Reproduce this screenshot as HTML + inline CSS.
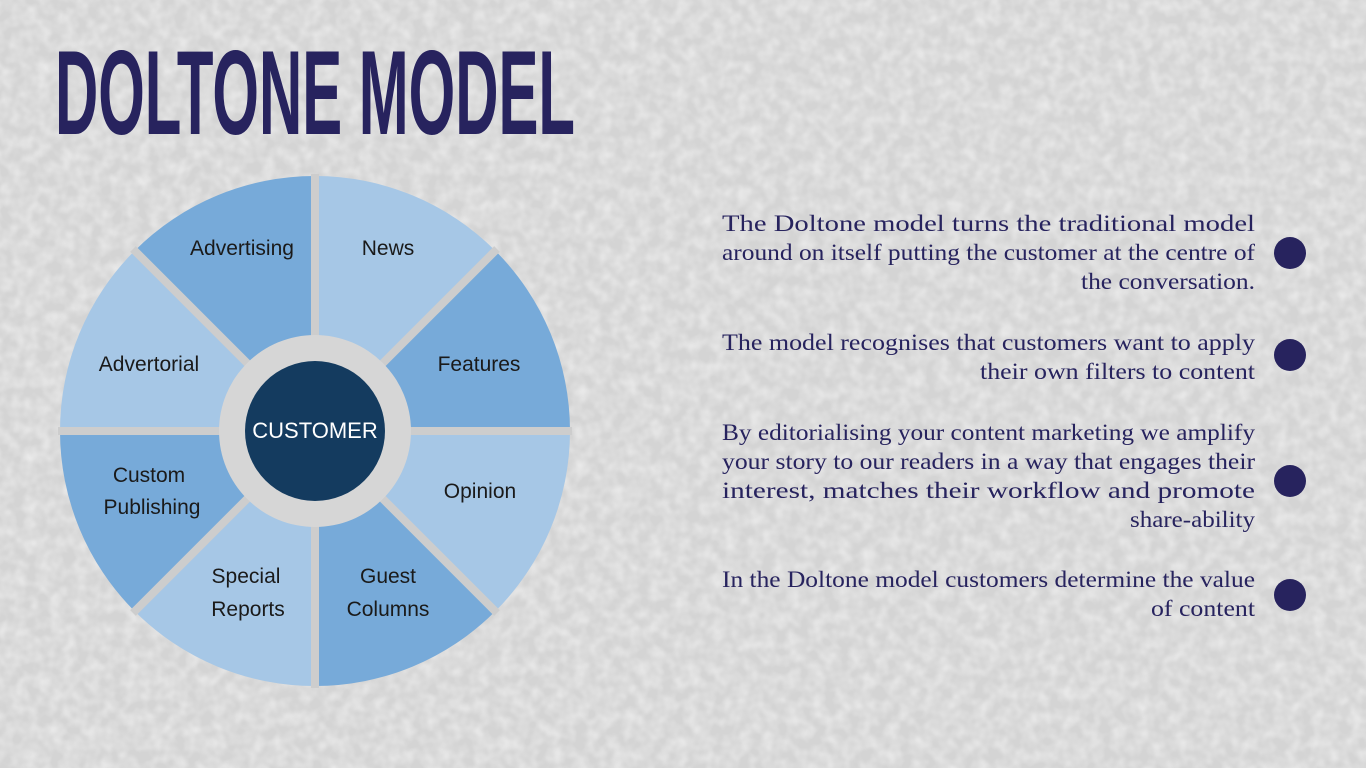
<!DOCTYPE html>
<html><head><meta charset="utf-8"><style>
html,body{margin:0;padding:0;width:1366px;height:768px;overflow:hidden;background:#d9d9d9;}
svg{display:block}
</style></head><body>
<svg width="1366" height="768" viewBox="0 0 1366 768" xmlns="http://www.w3.org/2000/svg">
<defs>
<filter id="n" x="0" y="0" width="100%" height="100%">
<feTurbulence type="fractalNoise" baseFrequency="0.08" numOctaves="2" seed="3"/>
<feColorMatrix type="matrix" values="0 0 0 0 0.9  0 0 0 0 0.9  0 0 0 0 0.9  0 0 0 -1.6 1.1"/>
</filter>
</defs>
<rect width="1366" height="768" fill="#d4d4d4"/>
<rect width="1366" height="768" filter="url(#n)" opacity="0.7"/>
<text x="55" y="134" font-family="Liberation Sans Narrow, Liberation Sans, sans-serif" font-weight="bold" font-size="120" fill="#27235e" textLength="520" lengthAdjust="spacingAndGlyphs">DOLTONE MODEL</text>

<g stroke="none">
<path d="M315,176 A255,255 0 0 1 495.3,250.7 L382.2,363.8 A95,95 0 0 0 315,336 Z" fill="#a6c7e6"/>
<path d="M495.3,250.7 A255,255 0 0 1 570,431 L410,431 A95,95 0 0 0 382.2,363.8 Z" fill="#77aad9"/>
<path d="M570,431 A255,255 0 0 1 495.3,611.3 L382.2,498.2 A95,95 0 0 0 410,431 Z" fill="#a6c7e6"/>
<path d="M495.3,611.3 A255,255 0 0 1 315,686 L315,526 A95,95 0 0 0 382.2,498.2 Z" fill="#77aad9"/>
<path d="M315,686 A255,255 0 0 1 134.7,611.3 L247.8,498.2 A95,95 0 0 0 315,526 Z" fill="#a6c7e6"/>
<path d="M134.7,611.3 A255,255 0 0 1 60,431 L220,431 A95,95 0 0 0 247.8,498.2 Z" fill="#77aad9"/>
<path d="M60,431 A255,255 0 0 1 134.7,250.7 L247.8,363.8 A95,95 0 0 0 220,431 Z" fill="#a6c7e6"/>
<path d="M134.7,250.7 A255,255 0 0 1 315,176 L315,336 A95,95 0 0 0 247.8,363.8 Z" fill="#77aad9"/>
</g>
<g stroke="#cdcdcd" stroke-width="8">
<line x1="315" y1="431" x2="315" y2="174"/>
<line x1="315" y1="431" x2="315" y2="688"/>
<line x1="315" y1="431" x2="58" y2="431"/>
<line x1="315" y1="431" x2="572" y2="431"/>
<line x1="315" y1="431" x2="497" y2="249"/>
<line x1="315" y1="431" x2="133" y2="613"/>
<line x1="315" y1="431" x2="133" y2="249"/>
<line x1="315" y1="431" x2="497" y2="613"/>
</g>
<circle cx="315" cy="431" r="96" fill="#d6d6d6"/>
<circle cx="315" cy="431" r="70" fill="#143b5f"/>
<g font-family="Liberation Sans, sans-serif" font-size="21" fill="#1a1a1a" text-anchor="middle">
<text x="315" y="438" fill="#ffffff" font-size="22">CUSTOMER</text>
<text x="242" y="255">Advertising</text>
<text x="388" y="255">News</text>
<text x="479" y="371">Features</text>
<text x="480" y="498">Opinion</text>
<text x="388" y="583">Guest</text>
<text x="388" y="616">Columns</text>
<text x="246" y="583">Special</text>
<text x="248" y="616">Reports</text>
<text x="149" y="482">Custom</text>
<text x="152" y="514">Publishing</text>
<text x="149" y="371">Advertorial</text>
</g>
<g font-family="Liberation Serif, serif" font-size="23" fill="#27235e" text-anchor="end" lengthAdjust="spacingAndGlyphs">
<text x="1255" y="231" textLength="533" lengthAdjust="spacingAndGlyphs">The Doltone model turns the traditional model</text>
<text x="1255" y="260" textLength="533" lengthAdjust="spacingAndGlyphs">around on itself putting the customer at the centre of</text>
<text x="1255" y="289" textLength="174" lengthAdjust="spacingAndGlyphs">the conversation.</text>
<text x="1255" y="350" textLength="533" lengthAdjust="spacingAndGlyphs">The model recognises that customers want to apply</text>
<text x="1255" y="379" textLength="275" lengthAdjust="spacingAndGlyphs">their own filters to content</text>
<text x="1255" y="440" textLength="533" lengthAdjust="spacingAndGlyphs">By editorialising your content marketing we amplify</text>
<text x="1255" y="469" textLength="533" lengthAdjust="spacingAndGlyphs">your story to our readers in a way that engages their</text>
<text x="1255" y="498" textLength="533" lengthAdjust="spacingAndGlyphs">interest, matches their workflow and promote</text>
<text x="1255" y="527" textLength="125" lengthAdjust="spacingAndGlyphs">share-ability</text>
<text x="1255" y="587" textLength="533" lengthAdjust="spacingAndGlyphs">In the Doltone model customers determine the value</text>
<text x="1255" y="616" textLength="104" lengthAdjust="spacingAndGlyphs">of content</text>
</g>
<g fill="#27235e">
<circle cx="1290" cy="253" r="16"/>
<circle cx="1290" cy="355" r="16"/>
<circle cx="1290" cy="481" r="16"/>
<circle cx="1290" cy="595" r="16"/>
</g>
</svg>
</body></html>
